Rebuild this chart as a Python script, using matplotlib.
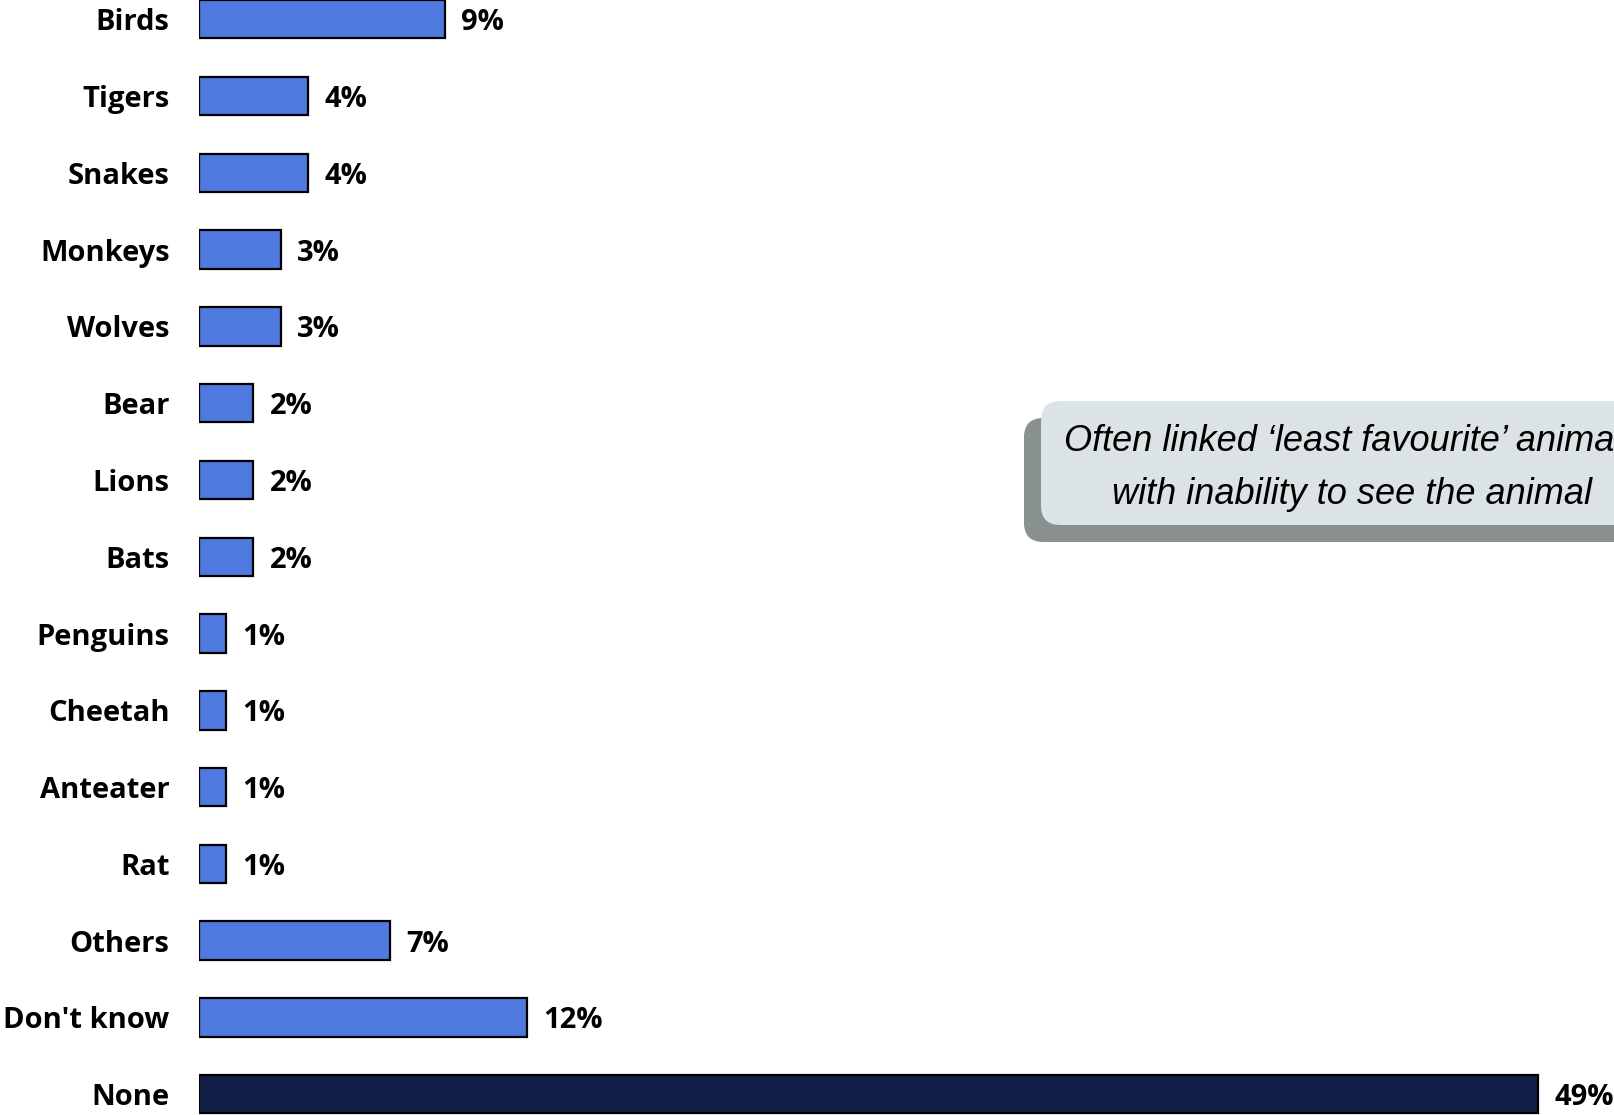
import matplotlib
matplotlib.use("Agg")
import matplotlib.pyplot as plt
from matplotlib.patches import FancyBboxPatch
from matplotlib import font_manager

categories = ["Birds", "Tigers", "Snakes", "Monkeys", "Wolves", "Bear", "Lions",
              "Bats", "Penguins", "Cheetah", "Anteater", "Rat", "Others",
              "Don't know", "None"]
values = [9, 4, 4, 3, 3, 2, 2, 2, 1, 1, 1, 1, 7, 12, 49]
value_labels = [f"{v}%" for v in values]
callout_text = "Often linked \u2018least favourite\u2019 animals\nwith inability to see the animal"

BLUE = "#4f79de"
NAVY = "#111e46"

available = {f.name for f in font_manager.fontManager.ttflist}
label_font = "Open Sans" if "Open Sans" in available else "DejaVu Sans"
note_font = "Liberation Sans Narrow" if "Liberation Sans Narrow" in available else "Liberation Sans"

W, H = 1614, 1115
fig = plt.figure(figsize=(W / 100, H / 100), dpi=100)
x0 = 198.7 / W
ax = fig.add_axes([x0, 0, 1 - x0, 1])

colors = [NAVY if c == "None" else BLUE for c in categories]
pos = list(range(len(categories)))
ax.barh(pos, values, height=0.5, color=colors, edgecolor="black", linewidth=1.6)

px_per_unit = 27.33
ax.set_xlim(0, (W - 198.7) / px_per_unit)
ax.set_ylim(14.27, -0.25)

ax.set_yticks(pos)
ax.set_yticklabels(categories, fontfamily=label_font, fontweight="bold",
                   fontsize=21, color="black")
ax.tick_params(axis="y", length=0, pad=21)
ax.set_xticks([])
for s in ax.spines.values():
    s.set_visible(False)

for p, v, lab in zip(pos, values, value_labels):
    ax.annotate(lab, (v, p), xytext=(12, 0), textcoords="offset points",
                ha="left", va="center_baseline", fontfamily=label_font,
                fontweight="bold", fontsize=21, color="black")

# Callout with offset shadow
shadow = FancyBboxPatch((1024 / W, 1 - 542 / H), 700 / W, (542 - 418) / H,
                        boxstyle="round,pad=0,rounding_size=0.012",
                        transform=fig.transFigure, facecolor="#889090",
                        edgecolor="none", zorder=5, mutation_aspect=W / H)
front = FancyBboxPatch((1041 / W, 1 - 525 / H), 700 / W, (525 - 401) / H,
                       boxstyle="round,pad=0,rounding_size=0.012",
                       transform=fig.transFigure, facecolor="#dce3e5",
                       edgecolor="none", zorder=6, mutation_aspect=W / H)
fig.patches.extend([shadow, front])
fig.text(1352 / W, 1 - 468 / H, callout_text, ha="center", va="center",
         fontfamily=note_font, fontstyle="italic", fontsize=26,
         linespacing=1.7, color="black", zorder=7)

fig.savefig("out.png", dpi=100, facecolor="white")
